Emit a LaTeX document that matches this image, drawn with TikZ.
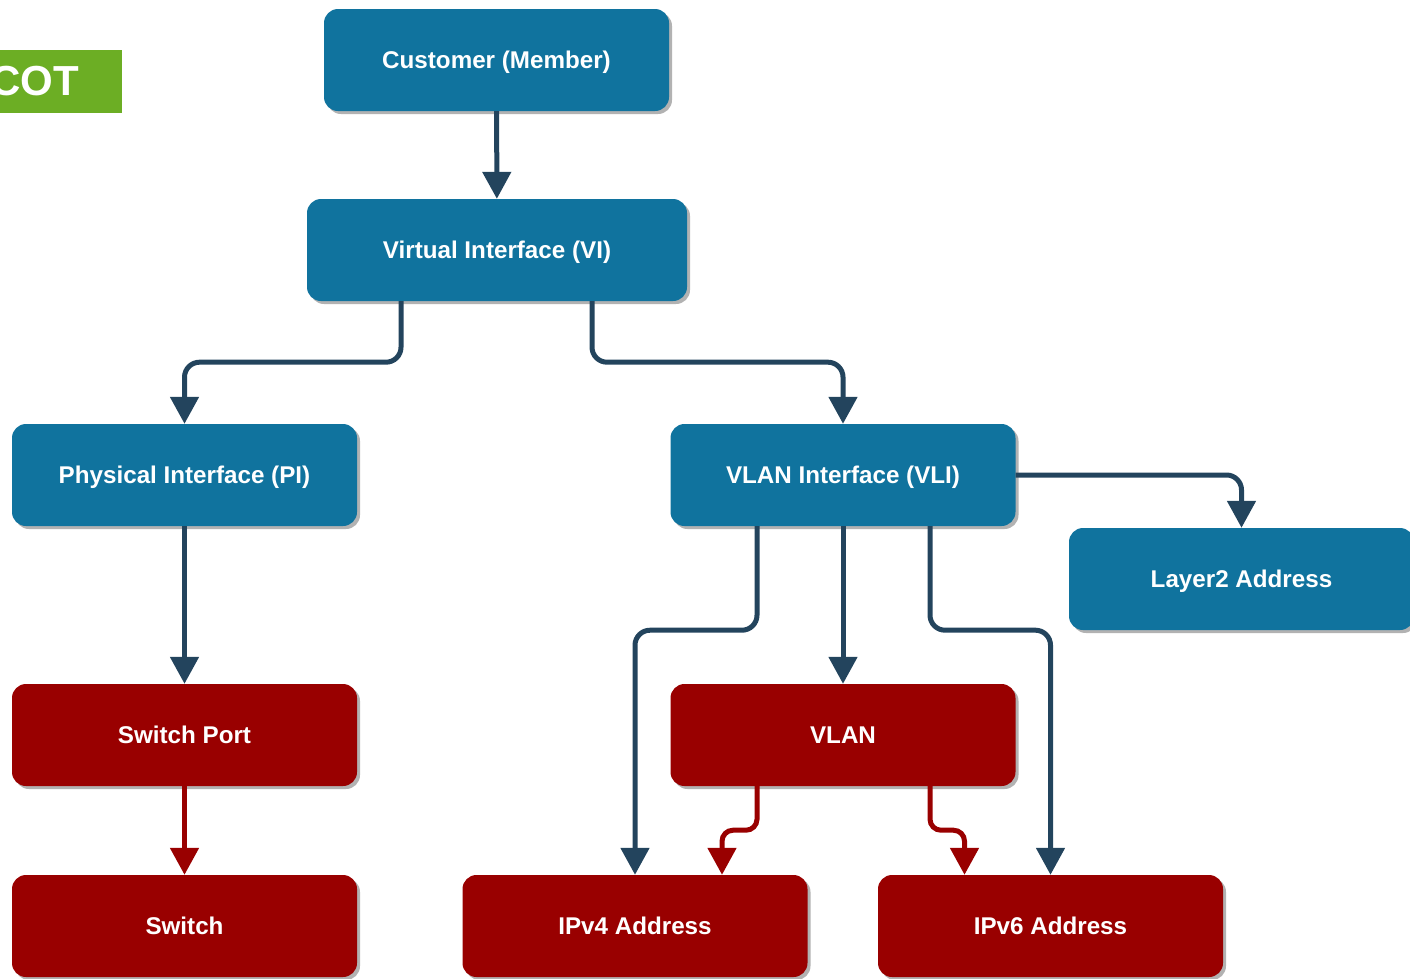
\documentclass[tikz,border=0pt]{standalone}
\usepackage{fontspec}
\setmainfont{Liberation Sans}
\usetikzlibrary{arrows.meta,shadows}
\definecolor{bluebox}{HTML}{10739E}
\definecolor{redbox}{HTML}{990000}
\definecolor{darkline}{HTML}{23445D}
\definecolor{cotgreen}{RGB}{108,174,36}
\begin{document}
\begin{tikzpicture}[x=1pt,y=-1pt,
 box/.style={rounded corners=14pt, minimum width=345pt, minimum height=102pt, inner sep=0pt, text=white,
   font=\fontsize{24.2}{29}\selectfont\bfseries, text height=17.4pt, text depth=0pt,
   drop shadow={shadow xshift=3pt, shadow yshift=-3pt, opacity=0.3, fill=black}},
 bbox/.style={box, fill=bluebox},
 rbox/.style={box, fill=redbox},
 conn/.style={line width=5pt, draw=darkline, -{Triangle[width=28pt,length=27pt]}, rounded corners=15pt},
 rconn/.style={conn, draw=redbox, rounded corners=11pt},
]
\useasboundingbox (0,0) rectangle (1410,978);
% COT label
\node[fill=cotgreen, minimum width=122pt, minimum height=63pt, anchor=north west, inner sep=0pt] (cotbox) at (0,50) {};
\node[anchor=base west, text=white, font=\fontsize{42}{48}\selectfont\bfseries, inner sep=0pt] (cot) at (-10,95) {COT};
% boxes
\node[bbox] (cust) at (496.5,60) {Customer (Member)};
\node[bbox, minimum width=380pt] (vi) at (497,250) {Virtual Interface (VI)};
\node[bbox] (pi) at (184.5,475) {Physical Interface (PI)};
\node[bbox] (vli) at (843,475) {VLAN Interface (VLI)};
\node[bbox] (l2) at (1241.5,579) {Layer2 Address};
\node[rbox] (sp) at (184.5,735) {Switch Port};
\node[rbox] (vlan) at (843,735) {VLAN};
\node[rbox] (sw) at (184.5,926) {Switch};
\node[rbox] (ipv4) at (635,926) {IPv4 Address};
\node[rbox] (ipv6) at (1050.5,926) {IPv6 Address};
% connectors
\draw[conn] (cust) -- (vi);
\draw[conn] ([xshift=-96pt]vi.south) -- ++(0,61) -| (pi.north);
\draw[conn] ([xshift=95pt]vi.south) -- ++(0,61) -| (vli.north);
\draw[conn] (vli.east) -| (l2.north);
\draw[conn] (pi) -- (sp);
\draw[conn] ([xshift=-86pt]vli.south) -- ++(0,104) -| (ipv4.north);
\draw[conn] (vli) -- (vlan);
\draw[conn] ([xshift=87pt]vli.south) -- ++(0,104) -| (ipv6.north);
\draw[rconn] (sp) -- (sw);
\draw[rconn] ([xshift=-86pt]vlan.south) -- ++(0,44) -| ([xshift=87pt]ipv4.north);
\draw[rconn] ([xshift=87pt]vlan.south) -- ++(0,44) -| ([xshift=-86pt]ipv6.north);
\end{tikzpicture}
\end{document}
